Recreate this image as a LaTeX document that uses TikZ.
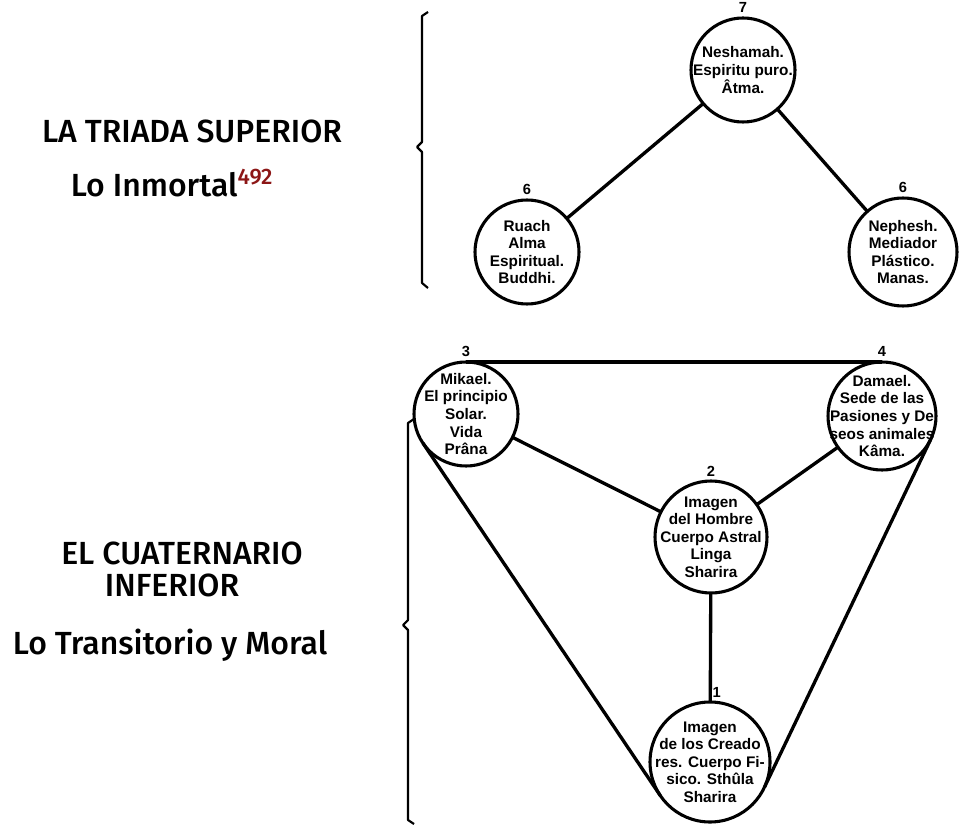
\documentclass[tikz,border=0pt]{standalone}
\usepackage{fontspec}
\usepackage{tikz}
\usetikzlibrary{positioning}
\newfontfamily\titlefont{Fira Sans Medium}
\newfontfamily\handfont{Liberation Sans}
\definecolor{notered}{RGB}{140,22,22}

\begin{document}
\begin{tikzpicture}[x=0.75pt,y=-0.75pt,
    disc/.style={draw,circle,line width=2.3pt,inner sep=0pt,outer sep=0pt},
    inscr/.style={align=center,inner sep=0pt,font=\handfont\bfseries\fontsize{11.5}{13.2}\selectfont},
    num/.style={inner sep=0pt,font=\handfont\bfseries\fontsize{11}{11}\selectfont},
    bond/.style={line width=2.5pt},
    brace/.style={line width=1.6pt,line join=round},
    heading/.style={align=center,font=\titlefont\fontsize{24}{24}\selectfont}]
  \useasboundingbox (0,0) rectangle (967,827);

  \draw[brace] (428,12) -- (422,16) -- (422,142) -- (417,147) -- (422,152) -- (422,283) -- (428,288);
  \draw[brace] (414,419) -- (408,423) -- (408,620) -- (403,625) -- (408,630) -- (408,820) -- (414,824);

  \node[heading] (triada) at (192,131) {LA TRIADA SUPERIOR};
  \node[heading] (inmortal) at (172,183) {Lo Inmortal\textsuperscript{\color{notered}492}};
  \node[heading] (cuaternario) at (182,553) {EL CUATERNARIO};
  \node[heading] (inferior) at (172,585) {INFERIOR};
  \node[heading] (transitorio) at (170,645) {Lo Transitorio y Moral};

  \node[disc,minimum size=78pt] (neshamah) at (743,70) {};
  \node[disc,minimum size=78pt] (ruach) at (527,252) {};
  \node[disc,minimum size=81pt] (nephesh) at (903,252) {};
  \node[disc,minimum size=78pt] (mikael) at (466,414) {};
  \node[disc,minimum size=81pt] (damael) at (882,416) {};
  \node[disc,minimum size=84pt] (hombre) at (711,537) {};
  \node[disc,minimum size=90pt] (creadores) at (710,762) {};

  \node[inscr] at (neshamah) {Neshamah.\\Espiritu puro.\\Âtma.};
  \node[inscr] at (ruach) {Ruach\\Alma\\Espiritual.\\Buddhi.};
  \node[inscr] at (nephesh) {Nephesh.\\Mediador\\Plástico.\\Manas.};
  \node[inscr] at (mikael) {Mikael.\\El principio\\Solar.\\Vida\\Prâna};
  \node[inscr] at (damael) {Damael.\\Sede de las\\Pasiones y De\\seos animales\\Kâma.};
  \node[inscr] at (hombre) {Imagen\\del Hombre\\Cuerpo Astral\\Linga\\Sharira};
  \node[inscr] at (creadores) {Imagen\\de los Creado\\res. Cuerpo Fi-\\sico. Sthûla\\Sharira};

  \node[num,above=4pt of neshamah] (n7) {7};
  \node[num,above=4pt of ruach] (n6a) {6};
  \node[num,above=4pt of nephesh] (n6b) {6};
  \node[num,above=4pt of mikael] (n3) {3};
  \node[num,above=4pt of damael] (n4) {4};
  \node[num,above=3pt of hombre] (n2) {2};
  \node[num,above=3pt of creadores,xshift=5pt] (n1) {1};

  \draw[bond] (neshamah) -- (ruach);
  \draw[bond] (neshamah) -- (nephesh);
  \draw[bond] (mikael.north) -- (damael.north);
  \draw[bond] (mikael) -- (hombre);
  \draw[bond] (damael) -- (hombre);
  \draw[bond] (hombre) -- (creadores);
  \draw[bond] (mikael.214) -- (creadores.214);
  \draw[bond] (damael.335) -- (creadores.335);
\end{tikzpicture}
\end{document}
